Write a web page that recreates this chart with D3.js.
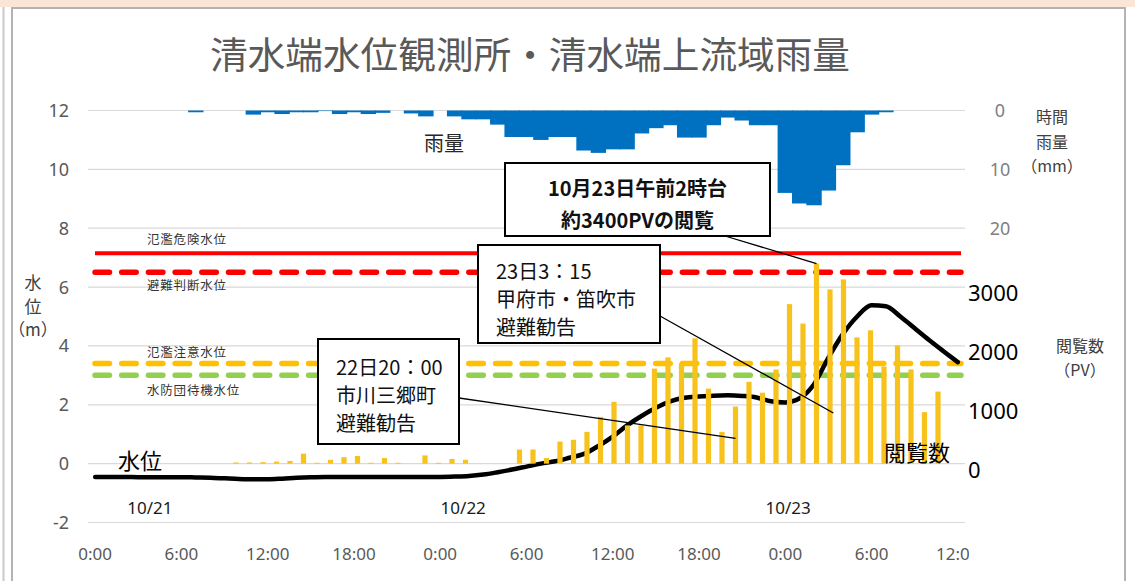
<!DOCTYPE html>
<html>
<head>
<meta charset="utf-8">
<script src="https://cdn.jsdelivr.net/npm/d3@7"></script>
<style>
  body { margin: 0; background: #fff; }
  svg { display: block; font-family: "Noto Sans CJK JP", "Noto Sans", sans-serif; }
</style>
</head>
<body>
<svg id="chart" width="1135" height="581"></svg>
<script>
// ---- data -------------------------------------------------------------
// hourly observations, 10/21 0:00 (hour 0) to 10/23 12:00 (hour 60)
const hours = d3.range(0, 61);

// water level at 清水端 (m)
const waterLevel = [
  -0.45, -0.45, -0.45, -0.46, -0.46, -0.46, -0.46, -0.47, -0.48, -0.50,
  -0.52, -0.53, -0.53, -0.51, -0.48, -0.46, -0.45, -0.45, -0.45, -0.45,
  -0.45, -0.45, -0.45, -0.45, -0.45, -0.44, -0.42, -0.37, -0.29, -0.20,
  -0.10,  0.00,  0.08,  0.20,  0.33,  0.60,  0.92,  1.30,  1.62,  1.90,
   2.12,  2.24,  2.28,  2.31,  2.32,  2.30,  2.25,  2.12,  2.08,  2.22,
   2.70,  3.60,  4.40,  5.00,  5.38,  5.35,  5.00,  4.60,  4.20,  3.82,
   3.45
];

// hourly rainfall over the upstream basin (mm)
const rainfall = [
  0, 0, 0, 0, 0, 0, 0, 0.3, 0, 0,
  0, 0.7, 0.3, 0.6, 0.3, 0.3, 0.1, 0.6, 0.3, 0.6,
  0.4, 0, 0.5, 1.0, 0, 1.0, 1.5, 1.5, 2.4, 4.5,
  4.5, 5.0, 4.5, 4.5, 6.8, 7.2, 6.6, 6.6, 3.9, 3.0,
  2.5, 4.6, 4.6, 2.5, 1.2, 1.7, 2.5, 2.5, 14.0, 15.8,
  16.1, 13.6, 9.3, 3.7, 0.7, 0.3, 0, 0, 0, 0,
  0
];

// page views per hour, 10/21 7:00 (hour 7) to 10/23 11:00 (hour 59)
const pvHours = d3.range(7, 60);
const pageViews = [
    20,   20,   25,   35,   45,  170,   15,   65,  110,  130,
    15,   95,   15,    0,  140,   15,   80,   65,    0,    0,
     0,  240,  240,   95,  375,  405,  540,  795, 1050,  650,
   650, 1615, 1805, 1705, 2130, 1275,  540,  970, 1390, 1205,
  1600, 2710, 2380, 3400, 2960, 3130, 2145, 2265, 1650, 2010,
  1600,  875, 1225
];

// axes
const levelTicks = [-2, 0, 2, 4, 6, 8, 10, 12];
const rainTicks = [0, 10, 20];
const pvTicks = [0, 1000, 2000, 3000];
const timeTickHours = [0, 6, 12, 18, 24, 30, 36, 42, 48, 54, 60];
const timeTickLabels = ["0:00", "6:00", "12:00", "18:00", "0:00", "6:00",
                        "12:00", "18:00", "0:00", "6:00", "12:00"];
const dateLabels = ["10/21", "10/22", "10/23"];
const dateLabelHours = [3.8, 25.6, 48.2];

// warning levels (m)
const thresholdNames = ["氾濫危険水位", "避難判断水位", "氾濫注意水位", "水防団待機水位"];
const thresholdLevels = [7.15, 6.5, 3.4, 3.0];

// annotations: hour on the page-view timeline and page-view level they point at
const noteTexts = [
  ["10月23日午前2時台", "約3400PVの閲覧"],
  ["23日3：15", "甲府市・笛吹市", "避難勧告"],
  ["22日20：00", "市川三郷町", "避難勧告"]
];
const noteHours = [50, 51.25, 44];
const notePV = [3400, 860, 430];

// ---- layout -------------------------------------------------------------
const svg = d3.select("#chart");
const plotLeft = 88, plotRight = 965;

const x = d3.scaleBand().domain(hours).range([plotLeft, plotRight]).padding(0);
const xc = h => x(h) + x.bandwidth() / 2;
const xh = d3.scaleLinear().domain([0, 60]).range([xc(0), xc(60)]);

const y = d3.scaleLinear().domain([-2, 12]).range([522.5, 110.5]);
const rainY = d3.scaleLinear().domain([0, 20]).range([y(12), y(8)]);
const pvY = d3.scaleLinear().domain([0, 3000]).range([y(0), y(6)]);
const pvX = d3.scaleLinear().domain([7, 59]).range([236, 938]);

// ---- frame --------------------------------------------------------------
svg.append("rect").attr("x", 0).attr("y", 0).attr("width", 1135).attr("height", 7)
  .attr("fill", "#fbe5d6");
svg.append("line").attr("x1", 3.5).attr("x2", 3.5).attr("y1", 7).attr("y2", 581)
  .attr("stroke", "#c9c9c9").attr("stroke-width", 2);
svg.append("rect").attr("x", 12).attr("y", 8).attr("width", 1113).attr("height", 590)
  .attr("fill", "#fff").attr("stroke", "#b3b3b3").attr("stroke-width", 2);

// title
svg.append("text").attr("x", 530).attr("y", 69).attr("text-anchor", "middle")
  .attr("font-size", 37).attr("fill", "#595959")
  .attr("textLength", 640).attr("lengthAdjust", "spacingAndGlyphs")
  .text("清水端水位観測所・清水端上流域雨量");

// ---- gridlines & left axis ----------------------------------------------
svg.append("g").selectAll("line").data(levelTicks).join("line")
  .attr("x1", plotLeft).attr("x2", plotRight)
  .attr("y1", d => y(d)).attr("y2", d => y(d))
  .attr("stroke", "#d9d9d9").attr("stroke-width", 1.2);

svg.append("g").selectAll("text").data(levelTicks).join("text")
  .attr("x", 69).attr("y", d => y(d)).attr("dy", "0.36em")
  .attr("text-anchor", "end").attr("font-family", "Noto Sans, sans-serif")
  .attr("font-size", 18).attr("fill", "#595959").text(d => d);

const leftTitle = svg.append("text").attr("font-size", 17).attr("fill", "#404040")
  .attr("text-anchor", "middle");
[["水", 289], ["位", 313], ["（m）", 336]].forEach(([t, yy]) =>
  leftTitle.append("tspan").attr("x", 33).attr("y", yy).text(t));

// time axis (right end is hidden behind the page-view panel)
const clip = svg.append("clipPath").attr("id", "tickClip");
clip.append("rect").attr("x", 0).attr("y", 530).attr("width", 969).attr("height", 50);
svg.append("g").attr("clip-path", "url(#tickClip)")
  .selectAll("text").data(timeTickHours).join("text")
  .attr("x", d => xh(d)).attr("y", 560).attr("text-anchor", "middle")
  .attr("font-family", "Noto Sans, sans-serif")
  .attr("font-size", 17).attr("fill", "#595959")
  .text((d, i) => timeTickLabels[i]);

svg.append("g").selectAll("text").data(dateLabels).join("text")
  .attr("x", (d, i) => xh(dateLabelHours[i])).attr("y", 514).attr("text-anchor", "middle")
  .attr("font-family", "Noto Sans, sans-serif")
  .attr("font-size", 17).attr("fill", "#1a1a1a").text(d => d);

// ---- rainfall (hanging from the top) ------------------------------------
svg.append("g").selectAll("rect").data(hours.filter(h => rainfall[h] > 0)).join("rect")
  .attr("x", h => x(h) - 0.5).attr("width", x.bandwidth() + 1)
  .attr("y", rainY(0)).attr("height", h => rainY(rainfall[h]) - rainY(0))
  .attr("fill", "#0070c0");

svg.append("g").selectAll("text").data(rainTicks).join("text")
  .attr("x", 1000).attr("y", d => rainY(d)).attr("dy", "0.36em")
  .attr("text-anchor", "middle").attr("font-family", "Noto Sans, sans-serif")
  .attr("font-size", 18).attr("fill", "#7f7f7f").text(d => d);

const rainTitle = svg.append("text").attr("font-size", 16).attr("fill", "#404040")
  .attr("text-anchor", "middle");
[["時間", 123], ["雨量", 148], ["（mm）", 172]].forEach(([t, yy]) =>
  rainTitle.append("tspan").attr("x", 1052).attr("y", yy).text(t));

svg.append("text").attr("x", 444).attr("y", 151).attr("text-anchor", "middle")
  .attr("font-size", 20).attr("fill", "#262626").text("雨量");

// ---- warning levels -----------------------------------------------------
const thColors = ["#ff0000", "#ff0000", "#ffc000", "#92d050"];
svg.append("g").selectAll("line").data(thresholdLevels).join("line")
  .attr("x1", 95).attr("x2", 961)
  .attr("y1", d => y(d)).attr("y2", d => y(d))
  .attr("stroke", (d, i) => thColors[i])
  .attr("stroke-width", (d, i) => i === 0 ? 4 : 5.5)
  .attr("stroke-linecap", (d, i) => i === 0 ? "butt" : "round")
  .attr("stroke-dasharray", (d, i) => i === 0 ? null : "14.5 12.2");

const thLabelOffsets = [-9, 18, -7, 20];
svg.append("g").selectAll("text").data(thresholdNames).join("text")
  .attr("x", 147).attr("y", (d, i) => y(thresholdLevels[i]) + thLabelOffsets[i])
  .attr("font-size", 12.5).attr("fill", "#333").attr("letter-spacing", 0.8)
  .text(d => d);

// ---- water level line ---------------------------------------------------
const line = d3.line().x(h => xc(h)).y(h => y(waterLevel[h])).curve(d3.curveMonotoneX);
svg.append("path").datum(hours).attr("d", line)
  .attr("fill", "none").attr("stroke", "#000").attr("stroke-width", 4.5)
  .attr("stroke-linejoin", "round").attr("stroke-linecap", "round");

svg.append("text").attr("x", 118).attr("y", 469).attr("font-size", 22)
  .attr("fill", "#000").text("水位");

// ---- page views ---------------------------------------------------------
svg.append("g").selectAll("rect").data(pvHours.filter((h, i) => pageViews[i] > 0)).join("rect")
  .attr("x", h => pvX(h) - 2.6).attr("width", 5.2)
  .attr("y", h => pvY(pageViews[h - 7]))
  .attr("height", h => pvY(0) - pvY(pageViews[h - 7]))
  .attr("fill", "#f7c21b");

svg.append("g").selectAll("text").data(pvTicks).join("text")
  .attr("x", 968).attr("y", d => pvY(d) + 6).attr("dy", "0.36em")
  .attr("font-family", "Noto Sans, sans-serif")
  .attr("font-size", 22).attr("fill", "#000").text(d => d);

const pvTitle = svg.append("text").attr("font-size", 16).attr("fill", "#404040")
  .attr("text-anchor", "middle");
[["閲覧数", 352], ["（PV）", 376]].forEach(([t, yy]) =>
  pvTitle.append("tspan").attr("x", 1080).attr("y", yy).text(t));

svg.append("text").attr("x", 884).attr("y", 461).attr("font-size", 22)
  .attr("fill", "#000").text("閲覧数");

// ---- annotations --------------------------------------------------------
const boxes = [
  { x: 505, y: 163, w: 265, h: 73, anchorX: 725, anchorY: 236, bold: true, center: true, lineH: 32, firstY: 196 },
  { x: 478, y: 245, w: 182, h: 98, anchorX: 660, anchorY: 316, bold: false, center: false, lineH: 28, firstY: 279 },
  { x: 318, y: 339, w: 141, h: 105, anchorX: 459, anchorY: 398, bold: false, center: false, lineH: 28, firstY: 375 }
];

boxes.forEach((b, i) => {
  svg.append("line")
    .attr("x1", b.anchorX).attr("y1", b.anchorY)
    .attr("x2", pvX(noteHours[i])).attr("y2", pvY(notePV[i]))
    .attr("stroke", "#000").attr("stroke-width", 1.3);
});

boxes.forEach((b, i) => {
  svg.append("rect").attr("x", b.x).attr("y", b.y).attr("width", b.w).attr("height", b.h)
    .attr("fill", "#fff").attr("stroke", "#000").attr("stroke-width", 2);
  const t = svg.append("text").attr("font-size", 20).attr("fill", "#111")
    .attr("font-weight", b.bold ? 700 : 400)
    .attr("text-anchor", b.center ? "middle" : "start");
  noteTexts[i].forEach((s, k) => {
    t.append("tspan").attr("x", b.center ? b.x + b.w / 2 : b.x + 18)
      .attr("y", b.firstY + k * b.lineH).text(s);
  });
});
</script>
</body>
</html>
